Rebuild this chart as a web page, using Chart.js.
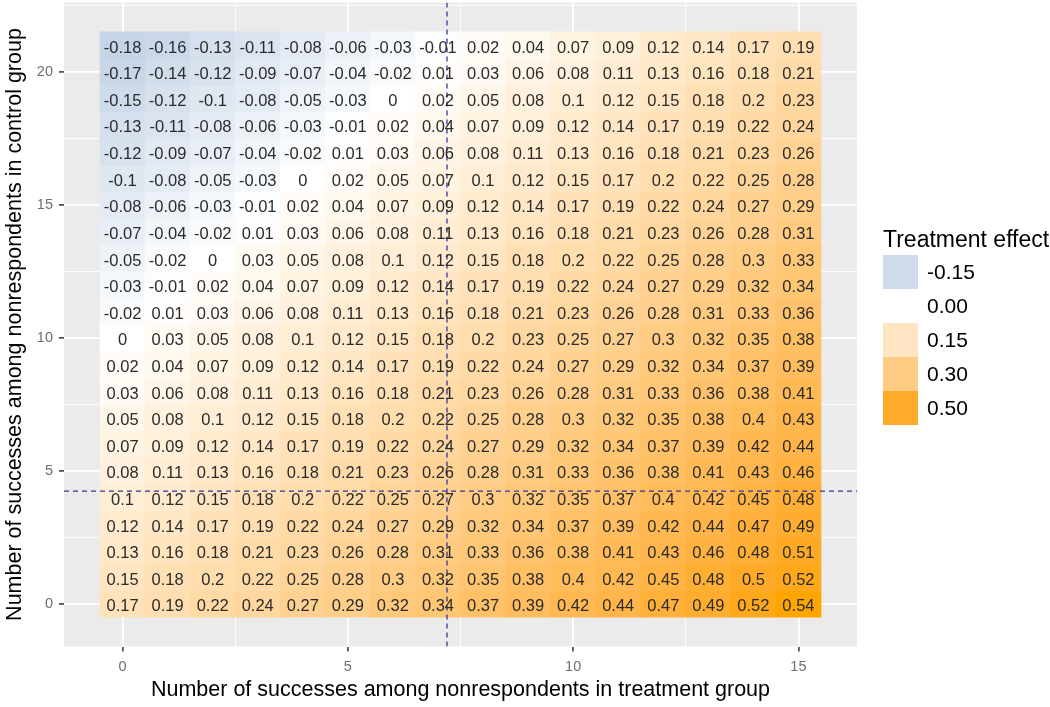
<!DOCTYPE html>
<html><head><meta charset="utf-8">
<script src="https://cdn.jsdelivr.net/npm/chart.js@4/dist/chart.umd.min.js"></script>
<style>html,body{margin:0;padding:0;background:#fff;}#wrap{position:relative;width:1050px;height:707px;}</style>
</head><body><div id="wrap"><canvas id="c" width="1050" height="707"></canvas></div>
<script>
// ---- data ----
const treatmentSuccesses = [0,1,2,3,4,5,6,7,8,9,10,11,12,13,14,15];
const controlSuccesses = [0,1,2,3,4,5,6,7,8,9,10,11,12,13,14,15,16,17,18,19,20,21];
const row21 = [-0.18,-0.16,-0.13,-0.11,-0.08,-0.06,-0.03,-0.01,0.02,0.04,0.07,0.09,0.12,0.14,0.17,0.19];
const row20 = [-0.17,-0.14,-0.12,-0.09,-0.07,-0.04,-0.02,0.01,0.03,0.06,0.08,0.11,0.13,0.16,0.18,0.21];
const row19 = [-0.15,-0.12,-0.1,-0.08,-0.05,-0.03,0,0.02,0.05,0.08,0.1,0.12,0.15,0.18,0.2,0.23];
const row18 = [-0.13,-0.11,-0.08,-0.06,-0.03,-0.01,0.02,0.04,0.07,0.09,0.12,0.14,0.17,0.19,0.22,0.24];
const row17 = [-0.12,-0.09,-0.07,-0.04,-0.02,0.01,0.03,0.06,0.08,0.11,0.13,0.16,0.18,0.21,0.23,0.26];
const row16 = [-0.1,-0.08,-0.05,-0.03,0,0.02,0.05,0.07,0.1,0.12,0.15,0.17,0.2,0.22,0.25,0.28];
const row15 = [-0.08,-0.06,-0.03,-0.01,0.02,0.04,0.07,0.09,0.12,0.14,0.17,0.19,0.22,0.24,0.27,0.29];
const row14 = [-0.07,-0.04,-0.02,0.01,0.03,0.06,0.08,0.11,0.13,0.16,0.18,0.21,0.23,0.26,0.28,0.31];
const row13 = [-0.05,-0.02,0,0.03,0.05,0.08,0.1,0.12,0.15,0.18,0.2,0.22,0.25,0.28,0.3,0.33];
const row12 = [-0.03,-0.01,0.02,0.04,0.07,0.09,0.12,0.14,0.17,0.19,0.22,0.24,0.27,0.29,0.32,0.34];
const row11 = [-0.02,0.01,0.03,0.06,0.08,0.11,0.13,0.16,0.18,0.21,0.23,0.26,0.28,0.31,0.33,0.36];
const row10 = [0,0.03,0.05,0.08,0.1,0.12,0.15,0.18,0.2,0.23,0.25,0.27,0.3,0.32,0.35,0.38];
const row9  = [0.02,0.04,0.07,0.09,0.12,0.14,0.17,0.19,0.22,0.24,0.27,0.29,0.32,0.34,0.37,0.39];
const row8  = [0.03,0.06,0.08,0.11,0.13,0.16,0.18,0.21,0.23,0.26,0.28,0.31,0.33,0.36,0.38,0.41];
const row7  = [0.05,0.08,0.1,0.12,0.15,0.18,0.2,0.22,0.25,0.28,0.3,0.32,0.35,0.38,0.4,0.43];
const row6  = [0.07,0.09,0.12,0.14,0.17,0.19,0.22,0.24,0.27,0.29,0.32,0.34,0.37,0.39,0.42,0.44];
const row5  = [0.08,0.11,0.13,0.16,0.18,0.21,0.23,0.26,0.28,0.31,0.33,0.36,0.38,0.41,0.43,0.46];
const row4  = [0.1,0.12,0.15,0.18,0.2,0.22,0.25,0.27,0.3,0.32,0.35,0.37,0.4,0.42,0.45,0.48];
const row3  = [0.12,0.14,0.17,0.19,0.22,0.24,0.27,0.29,0.32,0.34,0.37,0.39,0.42,0.44,0.47,0.49];
const row2  = [0.13,0.16,0.18,0.21,0.23,0.26,0.28,0.31,0.33,0.36,0.38,0.41,0.43,0.46,0.48,0.51];
const row1  = [0.15,0.18,0.2,0.22,0.25,0.28,0.3,0.32,0.35,0.38,0.4,0.42,0.45,0.48,0.5,0.52];
const row0  = [0.17,0.19,0.22,0.24,0.27,0.29,0.32,0.34,0.37,0.39,0.42,0.44,0.47,0.49,0.52,0.54];
const effectRows = [row0,row1,row2,row3,row4,row5,row6,row7,row8,row9,row10,row11,row12,row13,row14,row15,row16,row17,row18,row19,row20,row21];

const xTicks = [0,5,10,15];
const xMinorTicks = [2.5,7.5,12.5];
const yTicks = [0,5,10,15,20];
const yMinorTicks = [2.5,7.5,12.5,17.5,22.5];
const refLineX = [7.2];
const refLineY = [4.24];
const legendBreaks = [-0.15,0,0.15,0.30,0.50];
const legendLabels = ['-0.15','0.00','0.15','0.30','0.50'];
const xTitle = 'Number of successes among nonrespondents in treatment group';
const yTitle = 'Number of successes among nonrespondents in control group';
const legendTitle = 'Treatment effect';

// ---- colour scale (gradient2: steelblue - white - orange, Lab interpolation) ----
function srgbToLin(c){c/=255;return c<=0.04045?c/12.92:Math.pow((c+0.055)/1.055,2.4);}
function linToSrgb(c){const v=c<=0.0031308?12.92*c:1.055*Math.pow(c,1/2.4)-0.055;return Math.max(0,Math.min(255,Math.round(v*255)));}
function rgbToLab(r,g,b){
  const R=srgbToLin(r),G=srgbToLin(g),B=srgbToLin(b);
  let X=(0.4124*R+0.3576*G+0.1805*B)/0.95047, Y=(0.2126*R+0.7152*G+0.0722*B), Z=(0.0193*R+0.1192*G+0.9505*B)/1.08883;
  const f=t=>t>0.008856?Math.cbrt(t):(7.787*t+16/116);
  const fx=f(X),fy=f(Y),fz=f(Z);
  return [116*fy-16,500*(fx-fy),200*(fy-fz)];
}
function labToRgb(L,a,b){
  const fy=(L+16)/116,fx=fy+a/500,fz=fy-b/200;
  const fi=t=>{const t3=t*t*t;return t3>0.008856?t3:(t-16/116)/7.787;};
  const X=fi(fx)*0.95047,Y=fi(fy),Z=fi(fz)*1.08883;
  const R=3.2406*X-1.5372*Y-0.4986*Z,G=-0.9689*X+1.8758*Y+0.0415*Z,B=0.0557*X-0.2040*Y+1.0570*Z;
  return [linToSrgb(R),linToSrgb(G),linToSrgb(B)];
}
const labLow=rgbToLab(70,130,180), labMid=rgbToLab(255,255,255), labHigh=rgbToLab(255,165,0);
const allValues=effectRows.flat();
const maxAbs=Math.max(...allValues.map(Math.abs));
function fillColor(v){
  const t=v/maxAbs; // -1..1
  const from=labMid, to=t<0?labLow:labHigh, k=Math.min(1,Math.abs(t));
  const lab=[0,1,2].map(i=>from[i]+(to[i]-from[i])*k);
  const c=labToRgb(lab[0],lab[1],lab[2]);
  return `rgb(${c[0]},${c[1]},${c[2]})`;
}

// ---- build chart ----
const FONT="'Liberation Sans', Arial, Helvetica, sans-serif";
const xMin=-1.3,xMax=16.3,yMin=-1.6,yMax=22.6;
const cells=[];
controlSuccesses.forEach((cy,r)=>treatmentSuccesses.forEach((tx,c)=>{
  cells.push({x:tx,y:[cy-0.5,cy+0.5],v:effectRows[r][c]});
}));

const panelBg={id:'panelBg',beforeDraw(chart){
  const {ctx,chartArea:a}=chart;ctx.save();ctx.fillStyle='#EBEBEB';
  ctx.fillRect(a.left,a.top,a.right-a.left,a.bottom-a.top);ctx.restore();}};

const cellText={id:'cellText',afterDatasetsDraw(chart){
  const {ctx,scales:{x,y}}=chart;ctx.save();
  ctx.font=`16.5px ${FONT}`;ctx.fillStyle='#2b2b2b';ctx.textAlign='center';ctx.textBaseline='middle';
  cells.forEach(c=>{ctx.fillText(String(c.v),x.getPixelForValue(c.x),y.getPixelForValue((c.y[0]+c.y[1])/2)+3);});
  ctx.restore();}};

const legendPlugin={id:'legendDraw',afterDraw(chart){
  const ctx=chart.ctx;ctx.save();
  ctx.fillStyle='#000';ctx.font=`23px ${FONT}`;ctx.textAlign='left';ctx.textBaseline='alphabetic';
  ctx.fillText(legendTitle,883,247);
  const kx=883,ky=255,kw=35,kh=34;
  legendBreaks.forEach((b,i)=>{
    ctx.fillStyle=fillColor(b);ctx.fillRect(kx,ky+i*kh,kw,kh);
    ctx.fillStyle='#000';ctx.font=`21px ${FONT}`;ctx.textBaseline='middle';
    ctx.fillText(legendLabels[i],kx+kw+9,ky+i*kh+kh/2+1.5);
  });
  ctx.restore();}};

function axisGrid(major){
  return {color:'#FFFFFF',lineWidth:c=>major.includes(c.tick&&c.tick.value)?1.8:0.9,
    tickLength:5,tickColor:c=>major.includes(c.tick&&c.tick.value)?'#555':'rgba(0,0,0,0)',
    offset:false,drawOnChartArea:true,drawTicks:true};
}

new Chart(document.getElementById('c'),{
  data:{datasets:[
    {type:'line',order:0,data:[{x:refLineX[0],y:yMin},{x:refLineX[0],y:yMax}],borderColor:'#35359a',borderWidth:1.3,borderDash:[5,4],pointRadius:0,fill:false},
    {type:'line',order:0,data:[{x:xMin,y:refLineY[0]},{x:xMax,y:refLineY[0]}],borderColor:'#35359a',borderWidth:1.3,borderDash:[5,4],pointRadius:0,fill:false},
    {type:'bar',order:1,data:cells,backgroundColor:ctx=>ctx.raw?fillColor(ctx.raw.v):'#fff',
      borderWidth:0,barPercentage:1,categoryPercentage:1,grouped:false}
  ]},
  options:{responsive:false,animation:false,devicePixelRatio:1,
    layout:{padding:{left:0,right:193,top:2.5,bottom:0}},
    plugins:{legend:{display:false},tooltip:{enabled:false}},
    scales:{
      x:{type:'linear',min:xMin,max:xMax,offset:false,
        afterBuildTicks:s=>{s.ticks=[...xTicks,...xMinorTicks].sort((a,b)=>a-b).map(v=>({value:v}));},
        ticks:{autoSkip:false,maxRotation:0,padding:7,color:'#6e6e6e',font:{family:FONT,size:14.5},
          callback:v=>xTicks.includes(v)?String(v):''},
        grid:axisGrid(xTicks),border:{display:false},
        title:{display:true,text:xTitle,color:'#000',font:{family:FONT,size:21.5},padding:{top:0,bottom:4}},
        afterFit:s=>{s.height=60.5;s.paddingLeft=0;s.paddingRight=0;}},
      y:{type:'linear',min:yMin,max:yMax,
        afterBuildTicks:s=>{s.ticks=[...yTicks,...yMinorTicks].sort((a,b)=>a-b).map(v=>({value:v}));},
        ticks:{autoSkip:false,padding:6,color:'#6e6e6e',font:{family:FONT,size:14.5},
          callback:v=>yTicks.includes(v)?String(v):''},
        grid:axisGrid(yTicks),border:{display:false},
        title:{display:true,text:yTitle,color:'#000',font:{family:FONT,size:21.5},padding:{top:2,bottom:0}},
        afterFit:s=>{s.width=64;s.paddingTop=0;s.paddingBottom=0;}}
    }
  },
  plugins:[panelBg,cellText,legendPlugin]
});
</script></body></html>
